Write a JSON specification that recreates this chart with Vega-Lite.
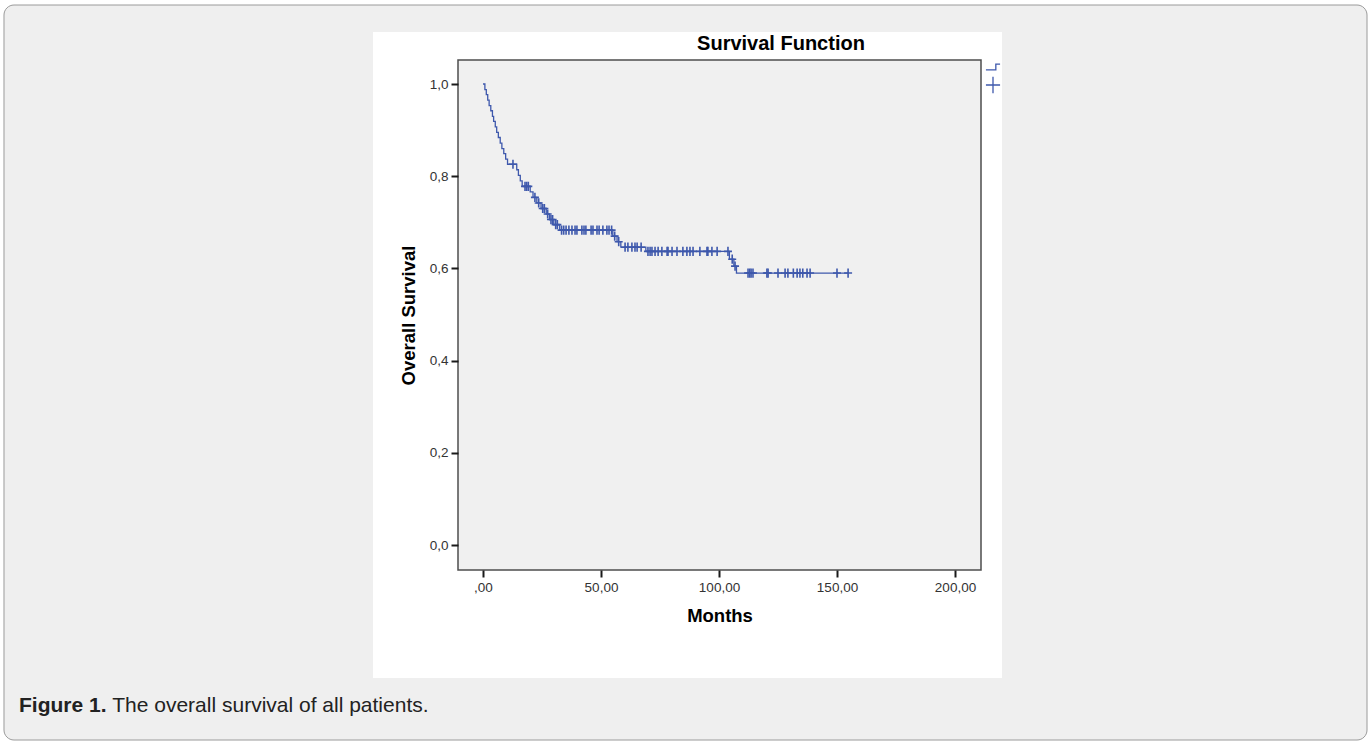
{
  "$schema": "https://vega.github.io/schema/vega-lite/v6.json",
  "width": 523,
  "height": 510,
  "autosize": {"type": "none"},
  "padding": {"left": 458, "top": 60, "right": 390, "bottom": 174},
  "background": "#ffffff",
  "config": {
    "font": "Liberation Sans",
    "view": {"stroke": null, "fill": null},
    "axis": {
      "domain": false,
      "grid": false,
      "tickColor": "#1a1a1a",
      "tickWidth": 2,
      "tickSize": 7,
      "labelFont": "Liberation Sans",
      "labelFontSize": 13.5,
      "labelColor": "#333333",
      "labelPadding": 3,
      "titleFont": "Liberation Sans",
      "titleFontSize": 18.5,
      "titleFontWeight": "bold",
      "titleColor": "#000000"
    }
  },
  "title": {
    "text": "Survival Function",
    "fontSize": 20,
    "fontWeight": "bold",
    "color": "#000000",
    "anchor": "middle",
    "frame": "group",
    "dx": 61.5,
    "offset": -49.5
  },
  "data": {
    "values": [
      {"t": 0, "s": 1.0, "c": 0},
      {"t": 0.8, "s": 0.988, "c": 0},
      {"t": 1.4, "s": 0.977, "c": 0},
      {"t": 2.0, "s": 0.965, "c": 0},
      {"t": 2.6, "s": 0.953, "c": 0},
      {"t": 3.3, "s": 0.942, "c": 0},
      {"t": 4.0, "s": 0.930, "c": 0},
      {"t": 4.5, "s": 0.919, "c": 0},
      {"t": 5.2, "s": 0.907, "c": 0},
      {"t": 5.8, "s": 0.895, "c": 0},
      {"t": 6.5, "s": 0.884, "c": 0},
      {"t": 7.3, "s": 0.872, "c": 0},
      {"t": 8.0, "s": 0.860, "c": 0},
      {"t": 8.8, "s": 0.849, "c": 0},
      {"t": 9.6, "s": 0.837, "c": 0},
      {"t": 10.4, "s": 0.826, "c": 0},
      {"t": 12.7, "s": 0.826, "c": 1},
      {"t": 14.3, "s": 0.814, "c": 0},
      {"t": 15.0, "s": 0.802, "c": 0},
      {"t": 15.8, "s": 0.790, "c": 0},
      {"t": 16.6, "s": 0.778, "c": 0},
      {"t": 17.8, "s": 0.778, "c": 1},
      {"t": 18.5, "s": 0.778, "c": 1},
      {"t": 19.2, "s": 0.778, "c": 1},
      {"t": 20.0, "s": 0.766, "c": 0},
      {"t": 21.2, "s": 0.754, "c": 0},
      {"t": 22.0, "s": 0.754, "c": 1},
      {"t": 22.8, "s": 0.742, "c": 0},
      {"t": 23.6, "s": 0.742, "c": 1},
      {"t": 24.6, "s": 0.730, "c": 0},
      {"t": 25.3, "s": 0.730, "c": 1},
      {"t": 26.0, "s": 0.730, "c": 1},
      {"t": 26.8, "s": 0.718, "c": 0},
      {"t": 27.4, "s": 0.718, "c": 1},
      {"t": 28.2, "s": 0.706, "c": 0},
      {"t": 28.8, "s": 0.706, "c": 1},
      {"t": 29.5, "s": 0.706, "c": 1},
      {"t": 30.0, "s": 0.695, "c": 0},
      {"t": 30.8, "s": 0.695, "c": 1},
      {"t": 31.5, "s": 0.695, "c": 1},
      {"t": 32.5, "s": 0.683, "c": 0},
      {"t": 33.3, "s": 0.683, "c": 1},
      {"t": 34.2, "s": 0.683, "c": 1},
      {"t": 35.2, "s": 0.683, "c": 1},
      {"t": 36.4, "s": 0.683, "c": 1},
      {"t": 37.7, "s": 0.683, "c": 1},
      {"t": 39.0, "s": 0.683, "c": 1},
      {"t": 39.8, "s": 0.683, "c": 1},
      {"t": 41.9, "s": 0.683, "c": 1},
      {"t": 42.8, "s": 0.683, "c": 1},
      {"t": 43.6, "s": 0.683, "c": 1},
      {"t": 45.8, "s": 0.683, "c": 1},
      {"t": 46.6, "s": 0.683, "c": 1},
      {"t": 48.3, "s": 0.683, "c": 1},
      {"t": 49.2, "s": 0.683, "c": 1},
      {"t": 50.8, "s": 0.683, "c": 1},
      {"t": 52.5, "s": 0.683, "c": 1},
      {"t": 53.4, "s": 0.683, "c": 1},
      {"t": 54.5, "s": 0.683, "c": 1},
      {"t": 55.0, "s": 0.670, "c": 0},
      {"t": 55.8, "s": 0.670, "c": 1},
      {"t": 56.8, "s": 0.658, "c": 0},
      {"t": 57.5, "s": 0.658, "c": 1},
      {"t": 58.4, "s": 0.646, "c": 0},
      {"t": 60.2, "s": 0.646, "c": 1},
      {"t": 61.4, "s": 0.646, "c": 1},
      {"t": 63.1, "s": 0.646, "c": 1},
      {"t": 64.4, "s": 0.646, "c": 1},
      {"t": 65.3, "s": 0.646, "c": 1},
      {"t": 67.0, "s": 0.646, "c": 1},
      {"t": 69.0, "s": 0.637, "c": 0},
      {"t": 69.9, "s": 0.637, "c": 1},
      {"t": 70.8, "s": 0.637, "c": 1},
      {"t": 71.6, "s": 0.637, "c": 1},
      {"t": 72.9, "s": 0.637, "c": 1},
      {"t": 74.2, "s": 0.637, "c": 1},
      {"t": 75.8, "s": 0.637, "c": 1},
      {"t": 78.0, "s": 0.637, "c": 1},
      {"t": 78.4, "s": 0.637, "c": 1},
      {"t": 80.1, "s": 0.637, "c": 1},
      {"t": 82.2, "s": 0.637, "c": 1},
      {"t": 84.7, "s": 0.637, "c": 1},
      {"t": 86.4, "s": 0.637, "c": 1},
      {"t": 87.7, "s": 0.637, "c": 1},
      {"t": 89.0, "s": 0.637, "c": 1},
      {"t": 91.9, "s": 0.637, "c": 1},
      {"t": 94.9, "s": 0.637, "c": 1},
      {"t": 95.3, "s": 0.637, "c": 1},
      {"t": 97.0, "s": 0.637, "c": 1},
      {"t": 99.2, "s": 0.637, "c": 1},
      {"t": 103.8, "s": 0.637, "c": 1},
      {"t": 104.4, "s": 0.620, "c": 0},
      {"t": 105.6, "s": 0.620, "c": 1},
      {"t": 106.3, "s": 0.605, "c": 0},
      {"t": 106.8, "s": 0.605, "c": 1},
      {"t": 107.4, "s": 0.590, "c": 0},
      {"t": 112.3, "s": 0.590, "c": 1},
      {"t": 113.0, "s": 0.590, "c": 1},
      {"t": 113.6, "s": 0.590, "c": 1},
      {"t": 114.4, "s": 0.590, "c": 1},
      {"t": 120.3, "s": 0.590, "c": 1},
      {"t": 120.8, "s": 0.590, "c": 1},
      {"t": 125.0, "s": 0.590, "c": 1},
      {"t": 128.0, "s": 0.590, "c": 1},
      {"t": 129.2, "s": 0.590, "c": 1},
      {"t": 131.5, "s": 0.590, "c": 1},
      {"t": 133.1, "s": 0.590, "c": 1},
      {"t": 134.3, "s": 0.590, "c": 1},
      {"t": 135.5, "s": 0.590, "c": 1},
      {"t": 137.3, "s": 0.590, "c": 1},
      {"t": 138.6, "s": 0.590, "c": 1},
      {"t": 150.0, "s": 0.590, "c": 1},
      {"t": 154.7, "s": 0.590, "c": 1}
    ]
  },
  "layer": [
    {
      "data": {"values": [{}]},
      "mark": {"type": "rect", "fill": "#efefef", "stroke": "#9a9a9a", "strokeWidth": 1, "cornerRadius": 10},
      "encoding": {
        "x": {"datum": -202.97, "type": "quantitative", "scale": {"domain": [-10.593, 211.017], "nice": false, "zero": false}},
        "x2": {"datum": 374.58},
        "y": {"datum": 1.1714, "type": "quantitative", "scale": {"domain": [-0.0542, 1.0521], "nice": false, "zero": false}},
        "y2": {"datum": -0.423}
      }
    },
    {
      "data": {"values": [{}]},
      "mark": {"type": "rect", "fill": "#ffffff", "strokeWidth": 0},
      "encoding": {
        "x": {"datum": -46.61, "type": "quantitative"},
        "x2": {"datum": 219.92},
        "y": {"datum": 1.1128, "type": "quantitative"},
        "y2": {"datum": -0.2885}
      }
    },
    {
      "data": {"values": [{}]},
      "mark": {"type": "rect", "fill": "#f0f0f0", "stroke": "#4d4d4d", "strokeWidth": 1.5},
      "encoding": {
        "x": {"datum": -10.593, "type": "quantitative"},
        "x2": {"datum": 211.017},
        "y": {"datum": 1.0521, "type": "quantitative"},
        "y2": {"datum": -0.0542}
      }
    },
    {
      "mark": {"type": "line", "interpolate": "step-after", "color": "#3e58ac", "strokeWidth": 1.3},
      "encoding": {
        "x": {
          "field": "t",
          "type": "quantitative",
          "axis": {
            "title": "Months",
            "values": [0, 50, 100, 150, 200],
            "labelExpr": "datum.value == 0 ? ',00' : replace(format(datum.value, '.2f'), '.', ',')",
            "titlePadding": 13,
            "zindex": 2
          }
        },
        "y": {
          "field": "s",
          "type": "quantitative",
          "axis": {
            "title": "Overall Survival",
            "values": [0, 0.2, 0.4, 0.6, 0.8, 1.0],
            "labelExpr": "replace(format(datum.value, '.1f'), '.', ',')",
            "titlePadding": 11,
            "zindex": 2
          }
        }
      }
    },
    {
      "transform": [{"filter": "datum.c == 1"}],
      "mark": {"type": "point", "filled": false, "color": "#3e58ac", "strokeWidth": 1.6, "size": 64, "opacity": 1},
      "encoding": {
        "x": {"field": "t", "type": "quantitative"},
        "y": {"field": "s", "type": "quantitative"},
        "shape": {
          "field": "c",
          "type": "nominal",
          "scale": {"domain": [0, 1], "range": ["M-1,0.4H0.4V-0.4H1", "M-1,0H1M0,-1.15V1.15"]},
          "legend": {
            "orient": "none",
            "legendX": 527,
            "legendY": -1,
            "title": null,
            "labelExpr": "''",
            "labelOffset": 0,
            "symbolSize": 200,
            "symbolStrokeColor": "#3e58ac",
            "symbolStrokeWidth": 1.3,
            "symbolFillColor": "transparent",
            "rowPadding": 1
          }
        }
      }
    },
    {
      "data": {"values": [{}]},
      "mark": {"type": "text", "text": "Figure 1.", "fontWeight": "bold", "fontSize": 21, "align": "left", "baseline": "middle", "color": "#222222"},
      "encoding": {
        "x": {"datum": -196.6, "type": "quantitative"},
        "y": {"datum": -0.3492, "type": "quantitative"}
      }
    },
    {
      "data": {"values": [{}]},
      "mark": {"type": "text", "text": "The overall survival of all patients.", "fontSize": 21, "align": "left", "baseline": "middle", "color": "#222222"},
      "encoding": {
        "x": {"datum": -157.1, "type": "quantitative"},
        "y": {"datum": -0.3492, "type": "quantitative"}
      }
    }
  ]
}
